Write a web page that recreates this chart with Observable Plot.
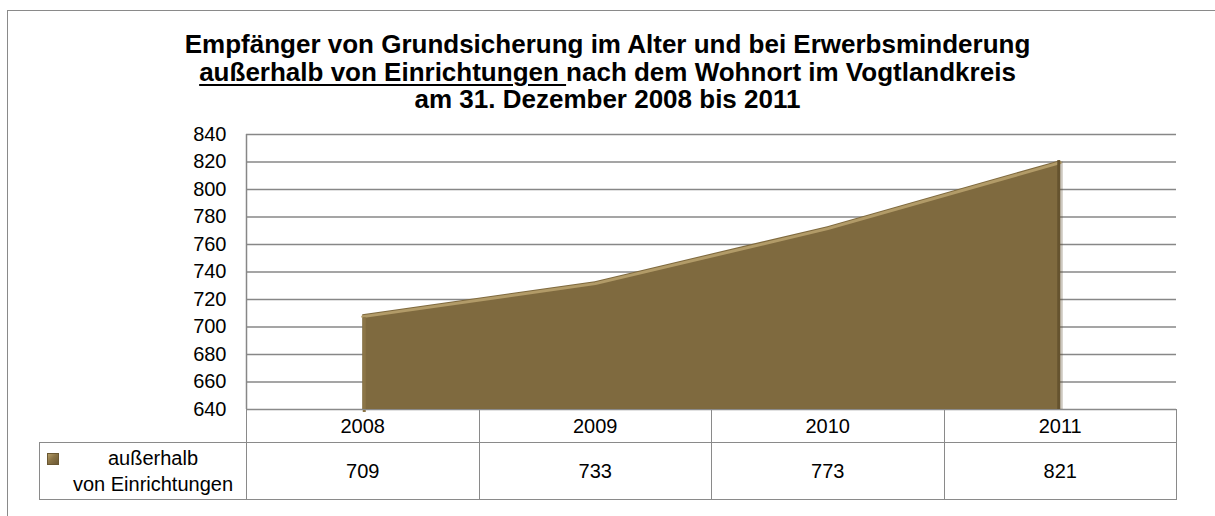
<!DOCTYPE html>
<html><head><meta charset="utf-8">
<script src="https://cdn.jsdelivr.net/npm/d3@7"></script>
<script src="https://cdn.jsdelivr.net/npm/@observablehq/plot@0.6"></script>
<style>
body{margin:0;background:#fff;font-family:"Liberation Sans",Arial,sans-serif;}
#wrap{position:relative;width:1215px;height:516px;overflow:hidden;background:#fff;}
#frame{position:absolute;left:7px;top:10px;width:1300px;height:600px;border-left:1.5px solid #8a8a8a;border-top:1.5px solid #8a8a8a;}
#title{position:absolute;left:0;top:31px;width:1215px;text-align:center;font-weight:bold;font-size:26px;line-height:27.7px;color:#000;}
#title u{text-decoration-thickness:2px;text-underline-offset:3px;}
#chart{position:absolute;left:0;top:0;}
#tbl{position:absolute;border-collapse:collapse;table-layout:fixed;font-size:20px;color:#000;}
#tbl td{border:1.5px solid #8a8a8a;text-align:center;padding:0;}
#tbl td.blank{border:none;}
#tbl td.legend{position:relative;line-height:26px;padding-left:20px;}
#tbl .icon{position:absolute;left:7px;top:10px;width:12px;height:12px;box-sizing:border-box;border:1px solid #6a5732;background:linear-gradient(135deg,#b59d68 0%,#8a7345 45%,#6b5834 100%);}
</style></head>
<body>
<div id="wrap">
  <div id="frame"></div>
  <div id="chart"></div>
  <div id="title"></div>
</div>
<script>
// ---- data ----
const titleLine1 = "Empfänger von Grundsicherung im Alter und bei Erwerbsminderung";
const titleLine2Underlined = "außerhalb von Einrichtungen ";
const titleLine2Rest = "nach dem Wohnort im Vogtlandkreis";
const titleLine3 = "am 31. Dezember 2008 bis 2011";
const years = [2008, 2009, 2010, 2011];
const values = [709, 733, 773, 821];
const seriesName = ["außerhalb", "von Einrichtungen"];
const yTicks = [640, 660, 680, 700, 720, 740, 760, 780, 800, 820, 840];

const data = years.map((year, i) => ({year, value: values[i]}));
const yMin = yTicks[0], yMax = yTicks[yTicks.length - 1];
const xDomain = [years[0] - 0.5, years[years.length - 1] + 0.5];

const titleEl = document.getElementById("title");
titleEl.innerHTML = "";
const l1 = document.createElement("div"); l1.textContent = titleLine1;
const l2 = document.createElement("div");
const u = document.createElement("u"); u.textContent = titleLine2Underlined;
l2.appendChild(u); l2.appendChild(document.createTextNode(titleLine2Rest));
const l3 = document.createElement("div"); l3.textContent = titleLine3;
titleEl.append(l1, l2, l3);

const chart = Plot.plot({
  width: 1215,
  height: 516,
  marginTop: 134,
  marginBottom: 107,
  marginLeft: 246,
  marginRight: 39,
  style: {fontFamily: "Liberation Sans, Arial, sans-serif", fontSize: "20px", color: "#000", background: "transparent", overflow: "visible"},
  x: {domain: xDomain, axis: null},
  y: {domain: [yMin, yMax], ticks: yTicks, tickSize: 0, tickPadding: 20, label: null, tickFormat: d => String(d)},
  marks: [
    Plot.ruleY(yTicks, {stroke: "#878787", strokeWidth: 1.5}),
    Plot.areaY(data, {x: "year", y1: yMin, y2: "value", fill: "#5b4a2b", dx: 3, dy: 1, fillOpacity: 0.3}),
    Plot.areaY(data, {x: "year", y1: yMin, y2: "value", fill: "#7f6a3f"}),
    Plot.lineY(data, {x: "year", y: "value", stroke: "#b29b68", strokeWidth: 3, dy: 2}),
    Plot.ruleX([years[years.length - 1]], {y1: yMin, y2: values[values.length - 1], stroke: "#65532f", strokeWidth: 3, dx: -1.5}),
    Plot.ruleX([years[0]], {y1: yMin, y2: values[0], stroke: "#8b7547", strokeWidth: 3, dx: 1.5, dy: 3}),
    Plot.ruleX([xDomain[0]], {stroke: "#878787", strokeWidth: 1.5})
  ]
});
document.getElementById("chart").appendChild(chart);

// data table under the chart, aligned to the x scale
const xs = chart.scale("x");
const ys = chart.scale("y");
const edges = [xDomain[0]].concat(years.map(y => y + 0.5)).map(v => xs.apply(v));
const legendLeft = 39;
const tbl = document.createElement("table");
tbl.id = "tbl";
tbl.style.left = legendLeft + "px";
tbl.style.top = ys.apply(yMin) + "px";
const colgroup = document.createElement("colgroup");
const widths = [edges[0] - legendLeft].concat(years.map((_, i) => edges[i + 1] - edges[i]));
widths.forEach(w => { const c = document.createElement("col"); c.style.width = w + "px"; colgroup.appendChild(c); });
tbl.appendChild(colgroup);
tbl.style.width = (edges[edges.length - 1] - legendLeft) + "px";
const tr1 = document.createElement("tr"); tr1.style.height = "33px";
const blank = document.createElement("td"); blank.className = "blank"; tr1.appendChild(blank);
years.forEach(y => { const td = document.createElement("td"); td.textContent = y; tr1.appendChild(td); });
const tr2 = document.createElement("tr"); tr2.style.height = "57px";
const leg = document.createElement("td"); leg.className = "legend";
const icon = document.createElement("span"); icon.className = "icon"; leg.appendChild(icon);
seriesName.forEach((s, i) => { if (i) leg.appendChild(document.createElement("br")); leg.appendChild(document.createTextNode(s)); });
tr2.appendChild(leg);
values.forEach(v => { const td = document.createElement("td"); td.textContent = v; tr2.appendChild(td); });
tbl.append(tr1, tr2);
document.getElementById("wrap").appendChild(tbl);
</script>
</body></html>
